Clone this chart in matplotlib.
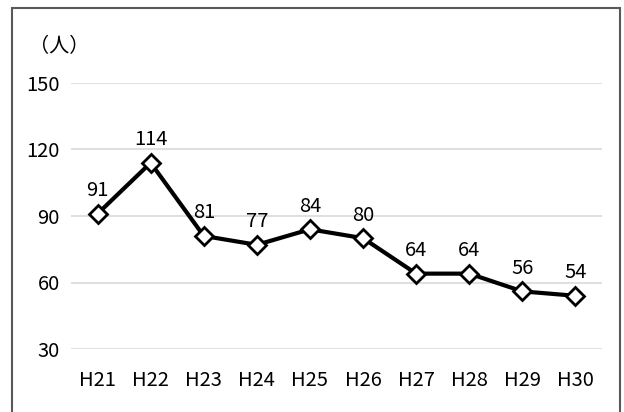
import matplotlib.pyplot as plt
import matplotlib.patches as mpatches

plt.rcParams['font.family'] = ['Noto Sans CJK JP', 'DejaVu Sans']

# data
years = ["H21", "H22", "H23", "H24", "H25", "H26", "H27", "H28", "H29", "H30"]
people = [91, 114, 81, 77, 84, 80, 64, 64, 56, 54]
yticks = [30, 60, 90, 120, 150]

fig = plt.figure(figsize=(6.24, 4.12), dpi=100)
ax = fig.add_axes([71 / 624, 1 - 349 / 412, (602 - 71) / 624, (349 - 83) / 412])

x = range(len(years))
ax.plot(x, people, color='black', lw=3, marker='D', markersize=9,
        markerfacecolor='white', markeredgecolor='black', markeredgewidth=2,
        zorder=3, clip_on=False)
for xi, v in zip(x, people):
    ax.annotate(str(v), (xi, v), xytext=(0, 9), textcoords='offset points',
                ha='center', va='bottom', fontsize=14.5)

ax.set_xlim(-0.5, len(years) - 0.5)
ax.set_ylim(30, 150)
ax.set_yticks(yticks)
ax.set_xticks(list(x))
ax.set_xticklabels(years)
ax.tick_params(length=0, labelsize=14.5, pad=8)
ax.tick_params(axis='x', pad=15)
ax.grid(axis='y', color='#d9d9d9', lw=1.2)
ax.set_axisbelow(True)
for s in ax.spines.values():
    s.set_visible(False)

fig.text(29 / 624, 1 - 47 / 412, "（人）", fontsize=14.5, va='center', ha='left')

# outer frame
fig.patches.append(mpatches.Rectangle((12 / 624, -0.05), (620 - 12) / 624, 1.05 - 8 / 412,
                                      transform=fig.transFigure, fill=False,
                                      edgecolor='#595959', lw=1.5))

fig.savefig("out.png", dpi=100)
